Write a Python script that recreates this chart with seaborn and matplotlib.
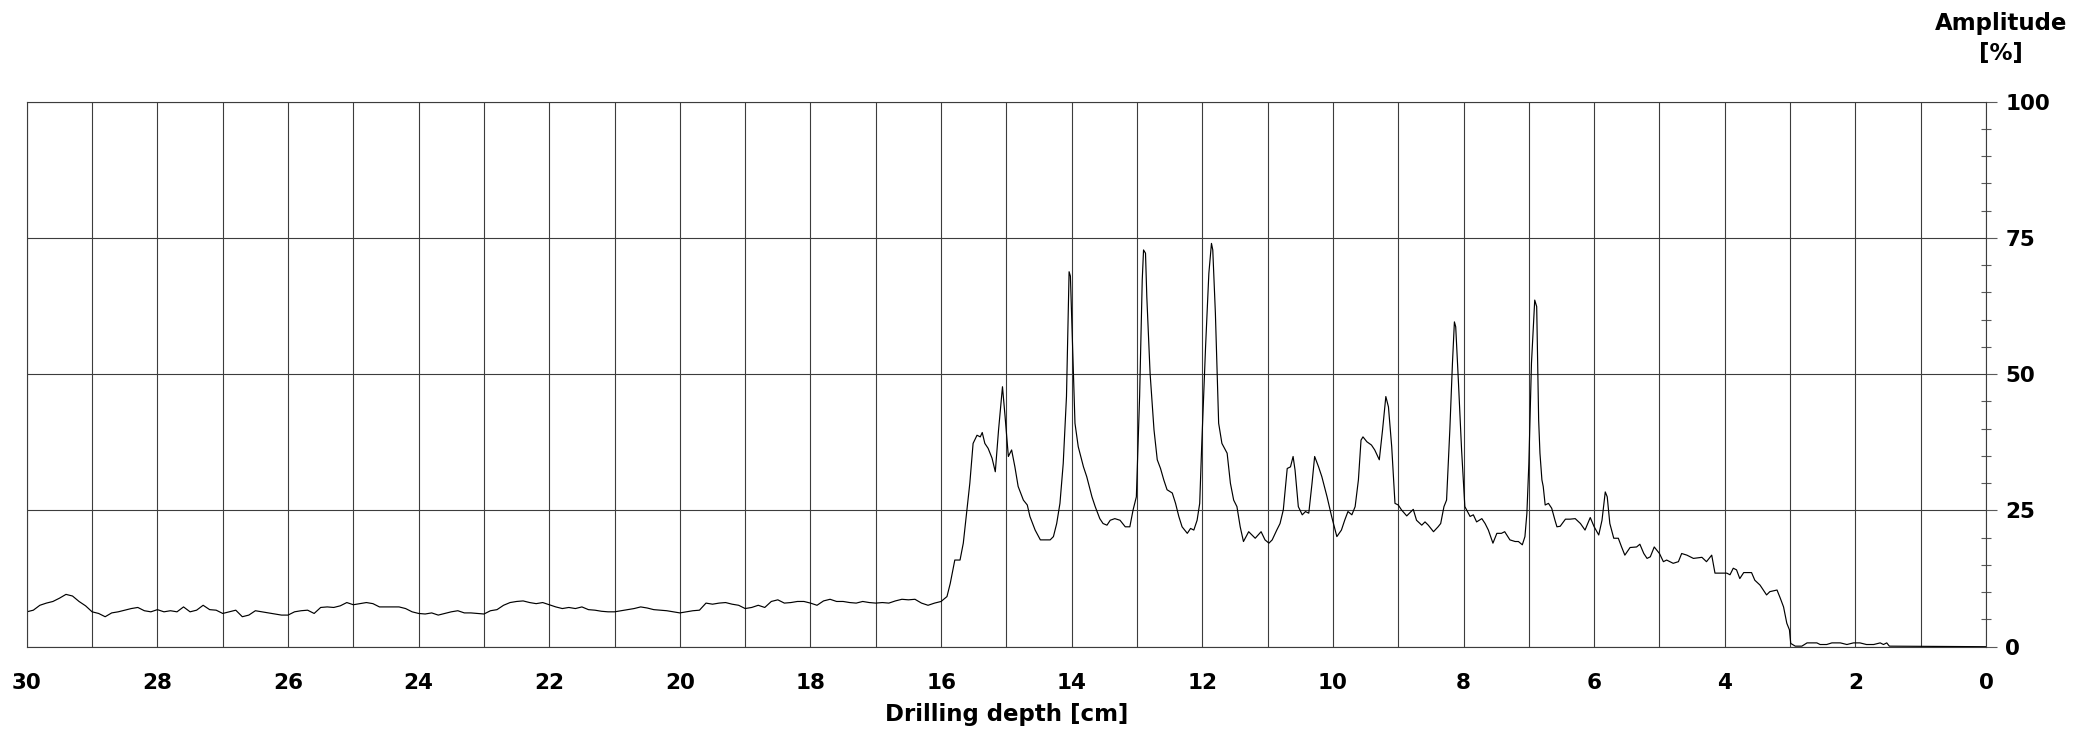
import matplotlib
matplotlib.use("Agg")
import matplotlib.pyplot as plt
import seaborn as sns
import pandas as pd
from matplotlib.ticker import MultipleLocator

# ---- data (depth in cm, amplitude in %) ----
depth_flat = [30.0, 29.9, 29.8, 29.7, 29.6, 29.5, 29.4, 29.3, 29.2, 29.1,
              29.0, 28.9, 28.8, 28.7, 28.6, 28.5, 28.4, 28.3, 28.2, 28.1,
              28.0, 27.9, 27.8, 27.7, 27.6, 27.5, 27.4, 27.3, 27.2, 27.1,
              27.0, 26.9, 26.8, 26.7, 26.6, 26.5, 26.4, 26.3, 26.2, 26.1,
              26.0, 25.9, 25.8, 25.7, 25.6, 25.5, 25.4, 25.3, 25.2, 25.1,
              25.0, 24.9, 24.8, 24.7, 24.6, 24.5, 24.4, 24.3, 24.2, 24.1,
              24.0, 23.9, 23.8, 23.7, 23.6, 23.5, 23.4, 23.3, 23.2, 23.1,
              23.0, 22.9, 22.8, 22.7, 22.6, 22.5, 22.4, 22.3, 22.2, 22.1,
              22.0, 21.9, 21.8, 21.7, 21.6, 21.5, 21.4, 21.3, 21.2, 21.1,
              21.0, 20.9, 20.8, 20.7, 20.6, 20.5, 20.4, 20.3, 20.2, 20.1,
              20.0, 19.9, 19.8, 19.7, 19.6, 19.5, 19.4, 19.3, 19.2, 19.1,
              19.0, 18.9, 18.8, 18.7, 18.6, 18.5, 18.4, 18.3, 18.2, 18.1,
              18.0, 17.9, 17.8, 17.7, 17.6, 17.5, 17.4, 17.3, 17.2, 17.1,
              17.0, 16.9, 16.8, 16.7, 16.6, 16.5, 16.4, 16.3, 16.2, 16.1]
amp_flat = [6.4, 6.7, 7.6, 8.0, 8.3, 8.9, 9.6, 9.3, 8.3, 7.5,
            6.4, 6.1, 5.5, 6.2, 6.4, 6.7, 7.0, 7.2, 6.6, 6.4,
            6.8, 6.4, 6.6, 6.4, 7.3, 6.4, 6.7, 7.6, 6.8, 6.7,
            6.1, 6.4, 6.7, 5.5, 5.8, 6.6, 6.4, 6.2, 6.0, 5.8,
            5.8, 6.4, 6.6, 6.7, 6.1, 7.2, 7.3, 7.2, 7.5, 8.1,
            7.7, 7.9, 8.1, 7.9, 7.3, 7.3, 7.3, 7.3, 7.0, 6.4,
            6.1, 6.0, 6.2, 5.8, 6.1, 6.4, 6.6, 6.2, 6.2, 6.1,
            6.0, 6.6, 6.8, 7.6, 8.1, 8.3, 8.4, 8.1, 7.9, 8.1,
            7.7, 7.3, 7.0, 7.2, 7.0, 7.3, 6.8, 6.7, 6.5, 6.4,
            6.4, 6.6, 6.8, 7.0, 7.3, 7.1, 6.8, 6.7, 6.6, 6.4,
            6.2, 6.4, 6.6, 6.7, 8.0, 7.8, 8.0, 8.1, 7.8, 7.6,
            7.0, 7.2, 7.6, 7.2, 8.3, 8.6, 8.0, 8.1, 8.3, 8.3,
            8.0, 7.6, 8.4, 8.7, 8.3, 8.3, 8.1, 8.0, 8.3, 8.1,
            8.0, 8.1, 8.0, 8.4, 8.7, 8.6, 8.7, 8.0, 7.6, 8.0]

depth_peaks = [16.00, 15.91, 15.86, 15.79, 15.71, 15.66, 15.61, 15.56, 15.51, 15.45,
               15.40, 15.37, 15.33, 15.28, 15.22, 15.17, 15.12, 15.06, 15.02, 14.97,
               14.92, 14.87, 14.82, 14.74, 14.68, 14.64, 14.56, 14.48, 14.41, 14.33,
               14.28, 14.23, 14.18, 14.13, 14.08, 14.04, 14.02, 13.97, 13.95, 13.90,
               13.82, 13.77, 13.69, 13.64, 13.57, 13.52, 13.46, 13.41, 13.34, 13.26,
               13.18, 13.11, 13.06, 13.01, 12.96, 12.92, 12.90, 12.87, 12.85, 12.80,
               12.74, 12.69, 12.64, 12.59, 12.54, 12.46, 12.41, 12.36, 12.31, 12.23,
               12.18, 12.13, 12.08, 12.04, 12.01, 11.95, 11.90, 11.86, 11.84, 11.80,
               11.75, 11.70, 11.62, 11.57, 11.52, 11.47, 11.42, 11.37, 11.29, 11.24,
               11.19, 11.10, 11.04, 10.98, 10.93, 10.86, 10.81, 10.76, 10.70, 10.65,
               10.61, 10.58, 10.53, 10.47, 10.42, 10.37, 10.32, 10.28, 10.22, 10.17,
               10.09, 10.02, 9.94, 9.87, 9.82, 9.77, 9.71, 9.66, 9.61, 9.57,
               9.54, 9.48, 9.41, 9.36, 9.29, 9.24, 9.19, 9.15, 9.10, 9.05,
               9.00, 8.95, 8.87, 8.77, 8.72, 8.64, 8.59, 8.54, 8.46, 8.39,
               8.35, 8.30, 8.26, 8.21, 8.17, 8.14, 8.12, 8.08, 8.03, 7.98,
               7.90, 7.85, 7.80, 7.72, 7.67, 7.62, 7.55, 7.49, 7.42, 7.37,
               7.29, 7.21, 7.16, 7.10, 7.06, 7.03, 7.00, 6.96, 6.91, 6.88,
               6.85, 6.83, 6.80, 6.78, 6.75]
amp_peaks = [8.3, 9.2, 11.6, 15.9, 15.9, 19.0, 24.5, 30.0, 37.3, 38.8,
             38.5, 39.3, 37.3, 36.4, 34.6, 32.1, 39.8, 47.7, 42.2, 34.9,
             36.1, 33.0, 29.4, 26.9, 26.0, 23.9, 21.4, 19.6, 19.6, 19.6,
             20.2, 22.6, 26.3, 33.6, 45.9, 68.8, 68.0, 48.9, 41.0, 36.7,
             33.0, 31.2, 27.5, 25.7, 23.5, 22.6, 22.3, 23.2, 23.5, 23.2,
             22.0, 22.0, 25.1, 27.5, 46.0, 67.3, 72.8, 72.2, 64.2, 50.2,
             39.8, 34.3, 32.7, 30.6, 28.8, 28.2, 26.3, 23.9, 22.0, 20.8,
             21.7, 21.4, 23.2, 26.3, 36.7, 55.1, 68.5, 74.0, 72.8, 61.2,
             41.0, 37.3, 35.5, 30.0, 26.9, 25.7, 22.0, 19.3, 21.1, 20.5,
             19.9, 21.1, 19.6, 19.0, 19.6, 21.4, 22.6, 25.1, 32.7, 33.0,
             34.9, 32.4, 25.7, 24.2, 24.8, 24.5, 30.0, 34.9, 33.0, 31.2,
             27.5, 23.9, 20.2, 21.4, 23.2, 24.8, 24.2, 25.7, 30.6, 37.9,
             38.5, 37.6, 37.0, 36.1, 34.3, 39.8, 45.9, 44.0, 36.7, 26.3,
             26.0, 25.1, 24.0, 25.2, 23.2, 22.3, 22.9, 22.3, 21.1, 22.0,
             22.6, 25.7, 26.9, 39.8, 52.0, 59.6, 58.7, 49.0, 36.1, 25.7,
             23.9, 24.2, 22.9, 23.5, 22.6, 21.4, 19.0, 20.8, 20.8, 21.1,
             19.6, 19.3, 19.3, 18.7, 20.2, 24.5, 33.6, 52.0, 63.6, 62.4,
             41.6, 35.5, 30.6, 29.4, 26.0]

depth_tail = [6.70, 6.65, 6.60, 6.57, 6.52, 6.44, 6.37, 6.29, 6.21, 6.14,
              6.06, 6.00, 5.93, 5.88, 5.83, 5.80, 5.76, 5.70, 5.63, 5.58,
              5.53, 5.45, 5.35, 5.30, 5.24, 5.19, 5.14, 5.08, 5.00, 4.94,
              4.89, 4.79, 4.71, 4.66, 4.58, 4.48, 4.35, 4.28, 4.20, 4.15,
              4.05, 3.97, 3.92, 3.87, 3.82, 3.77, 3.71, 3.59, 3.54, 3.46,
              3.36, 3.31, 3.20, 3.15, 3.10, 3.05, 3.01, 2.99, 2.92, 2.82,
              2.74, 2.59, 2.54, 2.44, 2.36, 2.23, 2.13, 2.03, 1.93, 1.83,
              1.72, 1.62, 1.57, 1.52, 1.48, 0.00]
amp_tail = [26.3, 25.4, 23.2, 22.0, 22.1, 23.4, 23.4, 23.5, 22.6, 21.4,
            23.7, 22.0, 20.5, 23.2, 28.4, 27.5, 22.6, 19.9, 19.9, 18.3,
            16.8, 18.2, 18.3, 18.8, 17.1, 16.2, 16.5, 18.3, 17.1, 15.6,
            15.9, 15.3, 15.6, 17.1, 16.8, 16.2, 16.4, 15.6, 16.8, 13.5,
            13.5, 13.5, 13.2, 14.4, 14.1, 12.5, 13.6, 13.6, 12.2, 11.3,
            9.5, 10.1, 10.4, 8.9, 7.3, 4.3, 3.1, 0.6, 0.1, 0.1,
            0.7, 0.7, 0.4, 0.4, 0.7, 0.7, 0.4, 0.7, 0.7, 0.4,
            0.4, 0.7, 0.4, 0.7, 0.1, 0.0]

x_major_ticks = list(range(0, 31, 2))
x_minor_ticks = list(range(1, 30, 2))
y_major_ticks = [0, 25, 50, 75, 100]

df = pd.DataFrame({
    "depth": depth_flat + depth_peaks + depth_tail,
    "amplitude": amp_flat + amp_peaks + amp_tail,
})

# ---- style ----
sns.set_style("white")
plt.rcParams["font.family"] = ["DejaVu Sans"]
plt.rcParams["font.weight"] = "bold"
plt.rcParams["text.color"] = "black"
plt.rcParams["axes.labelcolor"] = "black"
plt.rcParams["xtick.labelcolor"] = "black"
plt.rcParams["ytick.labelcolor"] = "black"

W, H = 2096, 744
fig = plt.figure(figsize=(W / 100, H / 100), dpi=100)
left_px, right_px, top_px, bottom_px = 26.8, 1986.0, 101.7, 646.7
ax = fig.add_axes([left_px / W, 1 - bottom_px / H,
                   (right_px - left_px) / W, (bottom_px - top_px) / H])

sns.lineplot(data=df, x="depth", y="amplitude", ax=ax, color="black",
             linewidth=0.85, estimator=None, sort=True)

ax.set_xlim(30, 0)
ax.set_ylim(0, 100)

ax.set_xticks(x_major_ticks)
ax.set_xticks(x_minor_ticks, minor=True)
ax.set_xticklabels([str(t) for t in x_major_ticks])
ax.yaxis.tick_right()
ax.set_yticks(y_major_ticks)
ax.yaxis.set_minor_locator(MultipleLocator(5))

grid_col = "#3c3c3c"
ax.grid(True, which="both", axis="x", color=grid_col, linewidth=0.8)
ax.grid(True, which="major", axis="y", color=grid_col, linewidth=0.8)
ax.set_axisbelow(True)

tick_col = "#5a5a5a"
ax.tick_params(axis="x", which="major", direction="out", length=7.9, width=0.8,
               color=tick_col, pad=11, labelsize=15.5, labelcolor="black")
ax.tick_params(axis="x", which="minor", direction="out", length=4.3, width=0.8,
               color=tick_col)
ax.tick_params(axis="y", which="major", direction="out", length=7.9, width=0.8,
               color=tick_col, pad=6, labelsize=15.5, labelcolor="black",
               left=False, right=True)
ax.tick_params(axis="y", which="minor", direction="inout", length=7.2, width=0.8,
               color=tick_col, left=False, right=True)

for s in ax.spines.values():
    s.set_color(grid_col)
    s.set_linewidth(0.8)

ax.set_xlabel("Drilling depth [cm]", fontsize=16.5, fontweight="bold",
              labelpad=7, color="black")
ax.set_ylabel("")

fig.text(2001 / W, 1 - 12 / H, "Amplitude\n[%]", ha="center", va="top",
         fontsize=16.5, fontweight="bold", multialignment="center",
         linespacing=1.38, color="black")

fig.savefig("out.png", dpi=100, facecolor="white")
